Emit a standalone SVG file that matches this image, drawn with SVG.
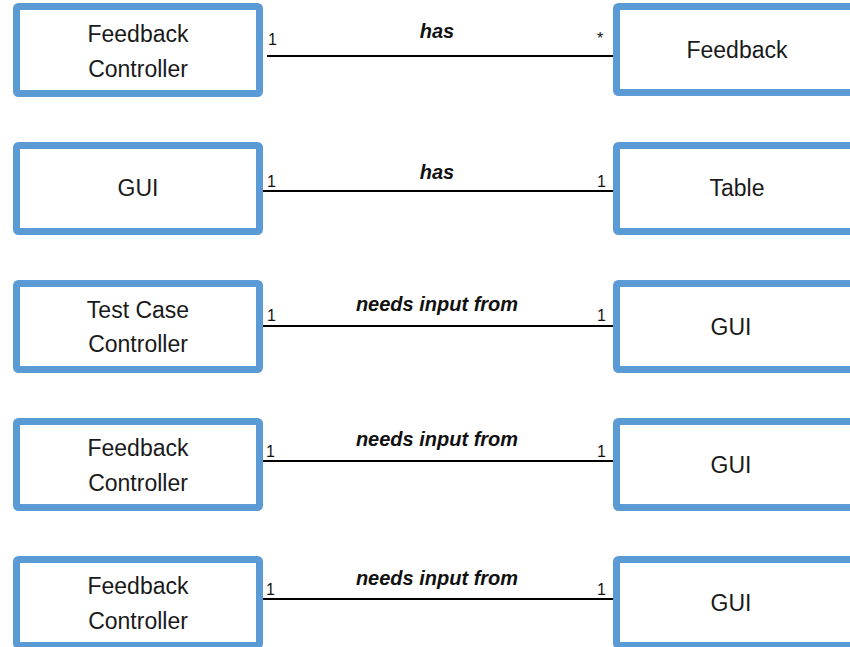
<svg xmlns="http://www.w3.org/2000/svg" width="850" height="647" viewBox="0 0 850 647">
<style>
.box{fill:#fff;stroke:#5b9bd5;stroke-width:7}
.t{font-family:"Liberation Sans",Arial,sans-serif;font-size:23px;fill:#1a1a1a;text-anchor:middle}
.lbl{font-family:"Liberation Sans",Arial,sans-serif;font-size:20px;font-weight:bold;font-style:italic;fill:#111;text-anchor:middle}
.m{font-family:"Liberation Sans",Arial,sans-serif;font-size:16px;fill:#111}
.c{stroke:#000;stroke-width:2;fill:none}
</style>
<rect width="850" height="647" fill="#fff"/>
<g id="connectors">
<line class="c" x1="267" y1="56" x2="622" y2="56"/>
<line class="c" x1="263" y1="191" x2="617" y2="191"/>
<line class="c" x1="263" y1="326" x2="617" y2="326"/>
<line class="c" x1="260" y1="461" x2="617" y2="461"/>
<line class="c" x1="260" y1="599" x2="617" y2="599"/>
<text class="lbl" x="437" y="38">has</text>
<text class="m" x="268" y="45">1</text>
<text class="m" x="597" y="44">*</text>
<text class="lbl" x="437" y="179">has</text>
<text class="m" x="267" y="187">1</text>
<text class="m" x="597" y="187">1</text>
<text class="lbl" x="437" y="311">needs input from</text>
<text class="m" x="267" y="321">1</text>
<text class="m" x="597" y="321">1</text>
<text class="lbl" x="437" y="446">needs input from</text>
<text class="m" x="266" y="457">1</text>
<text class="m" x="597" y="457">1</text>
<text class="lbl" x="437" y="585">needs input from</text>
<text class="m" x="266" y="595">1</text>
<text class="m" x="597" y="595">1</text>
</g>
<g id="n1"><rect class="box" x="16.5" y="6.5" width="243" height="87" rx="2"/><text class="t" x="138" y="42">Feedback</text><text class="t" x="138" y="77">Controller</text></g>
<g id="n2"><rect class="box" x="616.5" y="6.5" width="260" height="86" rx="2"/><text class="t" x="737" y="58">Feedback</text></g>
<g id="n3"><rect class="box" x="16.5" y="145.5" width="243" height="86" rx="2"/><text class="t" x="138" y="196">GUI</text></g>
<g id="n4"><rect class="box" x="616.5" y="145.5" width="260" height="86" rx="2"/><text class="t" x="737" y="196">Table</text></g>
<g id="n5"><rect class="box" x="16.5" y="283.5" width="243" height="86" rx="2"/><text class="t" x="138" y="318">Test Case</text><text class="t" x="138" y="352">Controller</text></g>
<g id="n6"><rect class="box" x="616.5" y="283.5" width="260" height="86" rx="2"/><text class="t" x="731" y="335">GUI</text></g>
<g id="n7"><rect class="box" x="16.5" y="421.5" width="243" height="86" rx="2"/><text class="t" x="138" y="456">Feedback</text><text class="t" x="138" y="491">Controller</text></g>
<g id="n8"><rect class="box" x="616.5" y="421.5" width="260" height="86" rx="2"/><text class="t" x="731" y="473">GUI</text></g>
<g id="n9"><rect class="box" x="16.5" y="559.5" width="243" height="86" rx="2"/><text class="t" x="138" y="594">Feedback</text><text class="t" x="138" y="629">Controller</text></g>
<g id="n10"><rect class="box" x="616.5" y="559.5" width="260" height="86" rx="2"/><text class="t" x="731" y="611">GUI</text></g>
</svg>
